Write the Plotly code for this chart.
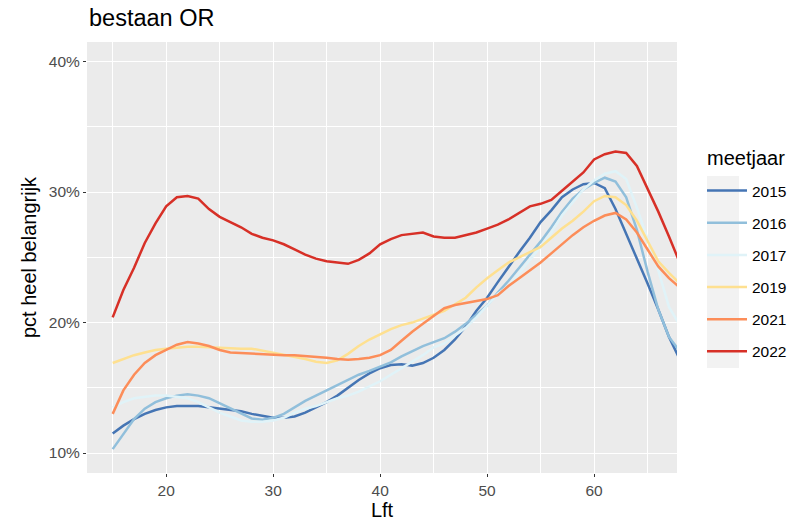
import plotly.graph_objects as go

# leeftijd (Lft) en percentage heel belangrijk per meetjaar
ages = list(range(15, 69))

pct_2015 = [11.5, 12.1, 12.6, 13.0, 13.3, 13.5, 13.6, 13.6, 13.6, 13.5,
            13.4, 13.3, 13.2, 13.0, 12.85, 12.7, 12.7, 12.8, 13.1, 13.5,
            13.9, 14.4, 15.0, 15.6, 16.1, 16.5, 16.75, 16.8, 16.7, 16.9,
            17.3, 17.9, 18.7, 19.7, 20.9, 21.9, 23.1, 24.3, 25.4, 26.5,
            27.7, 28.6, 29.6, 30.2, 30.6, 30.7, 30.3, 28.7, 26.8, 25.0,
            23.0, 21.0, 18.9, 17.2]
pct_2016 = [10.3, 11.5, 12.6, 13.4, 13.9, 14.2, 14.4, 14.5, 14.4, 14.2,
            13.8, 13.4, 13.0, 12.65, 12.55, 12.7, 13.0, 13.5, 14.0, 14.4,
            14.8, 15.2, 15.6, 16.0, 16.3, 16.6, 16.95, 17.4, 17.8, 18.2,
            18.5, 18.8, 19.3, 19.9, 20.6, 21.3, 22.3, 23.2, 24.2, 25.2,
            26.2, 27.3, 28.5, 29.5, 30.2, 30.7, 31.1, 30.8, 29.6, 27.1,
            23.9, 21.0, 18.9, 17.8]
pct_2017 = [13.5, 13.9, 14.2, 14.3, 14.4, 14.4, 14.3, 14.2, 13.9, 13.5,
            13.1, 12.8, 12.5, 12.4, 12.4, 12.5, 12.7, 13.1, 13.4, 13.6,
            13.9, 14.2, 14.4, 14.7, 15.1, 15.5, 16.0, 16.5, 17.0, 17.5,
            18.1, 18.4, 19.0, 19.6, 20.4, 21.3, 22.2, 22.8, 23.8, 24.8,
            25.8, 26.9, 28.2, 29.2, 30.2, 30.9, 31.4, 31.6, 31.0, 28.8,
            26.4, 24.0, 21.2, 19.8]
pct_2019 = [16.9, 17.2, 17.5, 17.7, 17.9, 18.0, 18.1, 18.15, 18.15, 18.1,
            18.1, 18.05, 18.0, 18.0, 17.85, 17.7, 17.5, 17.35, 17.2, 17.0,
            16.9, 17.1, 17.6, 18.2, 18.7, 19.1, 19.5, 19.8, 20.0, 20.3,
            20.6, 20.9, 21.4, 21.9, 22.7, 23.4, 24.0, 24.6, 25.0, 25.4,
            25.8, 26.5, 27.2, 27.8, 28.5, 29.3, 29.7, 29.6, 29.0, 27.8,
            26.3, 24.7, 23.8, 23.0]
pct_2021 = [13.0, 14.8, 16.0, 16.9, 17.5, 17.9, 18.3, 18.5, 18.4, 18.2,
            17.9, 17.7, 17.65, 17.6, 17.55, 17.5, 17.5, 17.5, 17.45, 17.4,
            17.3, 17.2, 17.15, 17.2, 17.3, 17.5, 17.9, 18.6, 19.3, 19.9,
            20.5, 21.1, 21.35, 21.5, 21.6, 21.8, 22.1, 22.8, 23.4, 24.0,
            24.6, 25.3, 26.0, 26.7, 27.3, 27.8, 28.2, 28.4, 27.9, 26.9,
            25.6, 24.3, 23.4, 22.7]
pct_2022 = [20.4, 22.5, 24.2, 26.1, 27.6, 28.9, 29.6, 29.7, 29.5, 28.7,
            28.1, 27.7, 27.3, 26.8, 26.5, 26.3, 26.0, 25.6, 25.2, 24.9,
            24.7, 24.6, 24.5, 24.8, 25.3, 26.0, 26.4, 26.7, 26.8, 26.9,
            26.6, 26.5, 26.5, 26.7, 26.9, 27.2, 27.5, 27.9, 28.4, 28.9,
            29.1, 29.4, 30.1, 30.8, 31.5, 32.5, 32.9, 33.1, 33.0, 32.0,
            30.3, 28.5, 26.6, 24.6]

years = ["2015", "2016", "2017", "2019", "2021", "2022"]
series = [pct_2015, pct_2016, pct_2017, pct_2019, pct_2021, pct_2022]
colors = ["#4575B4", "#91BFDB", "#E0F3F8", "#FEE090", "#FC8D59", "#D73027"]

y_ticks = [10, 20, 30, 40]
y_labels = ["10%", "20%", "30%", "40%"]
x_ticks = [20, 30, 40, 50, 60]

W, H = 801, 523
OFF = 8  # pagina-marge van de browser
L, R, T, B = 87, 677, 42, 473  # paneel in schermpixels

fig = go.Figure()
for yr, vals, col in zip(years, series, colors):
    fig.add_trace(go.Scatter(
        x=ages, y=vals, name=yr, mode="lines",
        line=dict(color=col, width=2.5),
        legendgroup=yr,
    ))

def px_x(p):
    return (p - L) / (R - L)

def px_y(p):
    return (B - p) / (B - T)

# grijze achtergrond achter de legenda-sleutels (ggplot stijl)
fig.add_shape(type="rect", xref="paper", yref="paper",
              x0=px_x(707), x1=px_x(739), y0=px_y(368), y1=px_y(176),
              fillcolor="#F2F2F2", line=dict(width=0), layer="below")

# legendatitel als losse tekst
fig.add_annotation(text="meetjaar", xref="paper", yref="paper",
                   x=px_x(705), y=px_y(158), xanchor="left", yanchor="middle",
                   showarrow=False, font=dict(size=20, color="black"))

# titel als tekst boven het paneel (basislijn net boven het paneel)
fig.add_annotation(text="bestaan OR", xref="paper", yref="paper",
                   x=0, y=px_y(33), xanchor="left", yanchor="bottom",
                   showarrow=False, font=dict(size=23.5, color="black"))

fig.update_layout(
    width=W, height=H,
    margin=dict(l=L - OFF, r=W - (R - OFF), t=T - OFF, b=H - (B - OFF)),
    paper_bgcolor="white",
    plot_bgcolor="#EBEBEB",
    font=dict(family="Liberation Sans, Arial, sans-serif", color="black"),
    showlegend=True,
    legend=dict(
        x=px_x(702), xanchor="left", y=px_y(174), yanchor="top",
        bgcolor="rgba(0,0,0,0)", font=dict(size=15.5),
        tracegroupgap=9, itemwidth=40,
    ),
    xaxis=dict(
        range=[12.6, 67.75], tickvals=x_ticks,
        title=dict(text="Lft", font=dict(size=20), standoff=4),
        showgrid=True, gridcolor="white", gridwidth=1.1,
        minor=dict(dtick=5, tick0=15, showgrid=True, gridcolor="white", gridwidth=0.5),
        ticks="outside", ticklen=3, tickcolor="#333333", tickwidth=1,
        tickfont=dict(size=15.5, color="#4D4D4D"), zeroline=False,
    ),
    yaxis=dict(
        range=[8.47, 41.5], tickvals=y_ticks, ticktext=y_labels,
        title=dict(text="pct heel belangrijk", font=dict(size=20), standoff=6),
        showgrid=True, gridcolor="white", gridwidth=1.1,
        minor=dict(dtick=5, tick0=15, showgrid=True, gridcolor="white", gridwidth=0.5),
        ticks="outside", ticklen=3, tickcolor="#333333", tickwidth=1,
        tickfont=dict(size=15.5, color="#4D4D4D"), zeroline=False,
    ),
)

fig.write_html("out.html")
